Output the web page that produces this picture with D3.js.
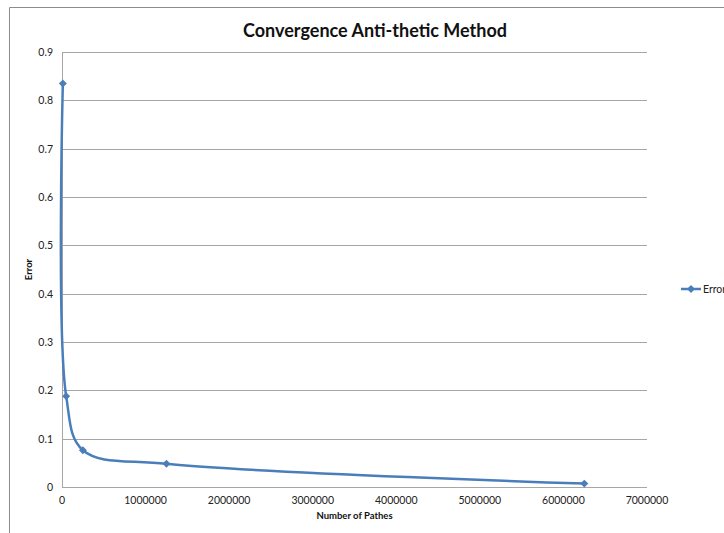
<!DOCTYPE html>
<html>
<head>
<meta charset="utf-8">
<script src="https://cdn.jsdelivr.net/npm/d3@7"></script>
<style>
  body { margin: 0; background: #fff; }
  svg { display: block; }
</style>
</head>
<body>
<script>
let paths = [10000, 50000, 250000, 1250000, 6250000]
let errors = [0.835, 0.188, 0.076, 0.048, 0.007]
let xTicks = [0, 1000000, 2000000, 3000000, 4000000, 5000000, 6000000, 7000000]
let yTicks = [0, 0.1, 0.2, 0.3, 0.4, 0.5, 0.6, 0.7, 0.8, 0.9]
let seriesName = 'Error'

let width = 724
let height = 533
let plotLeft = 62, plotRight = 647, plotTop = 52, plotBottom = 487
let font = 'Lato, "Open Sans", sans-serif'
let blue = '#4a7ebb'
let grid = '#a6a6a6'

let dataset = paths.map((p, i) => ({ x: p, y: errors[i] }))

let scaleX = d3.scaleLinear().domain([0, 7000000]).range([plotLeft, plotRight])
let scaleY = d3.scaleLinear().domain([0, 0.9]).range([plotBottom, plotTop])

let svg = d3.select('body')
  .append('svg')
  .attr('width', width)
  .attr('height', height)

// chart frame
svg.append('path')
  .attr('d', 'M9.5,' + height + ' V7.5 H' + width)
  .attr('fill', 'none')
  .attr('stroke', '#8c8c8c')
  .attr('stroke-width', 1)

// gridlines
svg.append('g')
  .selectAll('line')
  .data(yTicks)
  .enter()
  .append('line')
  .attr('x1', plotLeft)
  .attr('x2', plotRight)
  .attr('y1', d => Math.round(scaleY(d)) + 0.5)
  .attr('y2', d => Math.round(scaleY(d)) + 0.5)
  .attr('stroke', grid)
  .attr('stroke-width', 1)

// y axis line
svg.append('line')
  .attr('x1', plotLeft + 0.5)
  .attr('x2', plotLeft + 0.5)
  .attr('y1', plotTop)
  .attr('y2', plotBottom + 1)
  .attr('stroke', grid)

// y tick labels
svg.append('g')
  .selectAll('text')
  .data(yTicks)
  .enter()
  .append('text')
  .attr('x', plotLeft - 9)
  .attr('y', d => scaleY(d) + 4)
  .attr('text-anchor', 'end')
  .attr('font-family', font)
  .attr('font-size', 10.5)
  .attr('fill', '#222')
  .text(d => d === 0 ? '0' : d3.format('.1f')(d))

// x tick labels
svg.append('g')
  .selectAll('text')
  .data(xTicks)
  .enter()
  .append('text')
  .attr('x', d => scaleX(d))
  .attr('y', plotBottom + 17)
  .attr('text-anchor', 'middle')
  .attr('font-family', font)
  .attr('font-size', 10.5)
  .attr('fill', '#222')
  .text(d => d)

// titles
svg.append('text')
  .attr('x', 375)
  .attr('y', 37)
  .attr('text-anchor', 'middle')
  .attr('font-family', font)
  .attr('font-weight', 'bold')
  .attr('font-size', 18)
  .attr('fill', '#111')
  .text('Convergence Anti-thetic Method')

svg.append('text')
  .attr('x', (plotLeft + plotRight) / 2)
  .attr('y', 519)
  .attr('text-anchor', 'middle')
  .attr('font-family', font)
  .attr('font-weight', 'bold')
  .attr('font-size', 9.5)
  .attr('fill', '#111')
  .text('Number of Pathes')

svg.append('text')
  .attr('transform', 'translate(32,' + (plotTop + plotBottom) / 2 + ') rotate(-90)')
  .attr('text-anchor', 'middle')
  .attr('font-family', font)
  .attr('font-weight', 'bold')
  .attr('font-size', 9.5)
  .attr('fill', '#111')
  .text('Error')

// series line
let line = d3.line()
  .x(d => scaleX(d.x))
  .y(d => scaleY(d.y))
  .curve(d3.curveCatmullRom.alpha(0.5))

svg.append('path')
  .datum(dataset)
  .attr('d', line)
  .attr('fill', 'none')
  .attr('stroke', blue)
  .attr('stroke-width', 2.5)

let diamond = d3.symbol().type(d3.symbolDiamond2).size(40)

svg.append('g')
  .selectAll('path')
  .data(dataset)
  .enter()
  .append('path')
  .attr('d', diamond)
  .attr('transform', d => 'translate(' + scaleX(d.x) + ',' + scaleY(d.y) + ')')
  .attr('fill', blue)

// legend
let ly = 289
svg.append('line')
  .attr('x1', 681)
  .attr('x2', 701)
  .attr('y1', ly)
  .attr('y2', ly)
  .attr('stroke', blue)
  .attr('stroke-width', 2.5)
svg.append('path')
  .attr('d', diamond)
  .attr('transform', 'translate(691,' + ly + ')')
  .attr('fill', blue)
svg.append('text')
  .attr('x', 703)
  .attr('y', ly + 4)
  .attr('font-family', font)
  .attr('font-size', 10.5)
  .attr('fill', '#222')
  .text(seriesName)
</script>
</body>
</html>
